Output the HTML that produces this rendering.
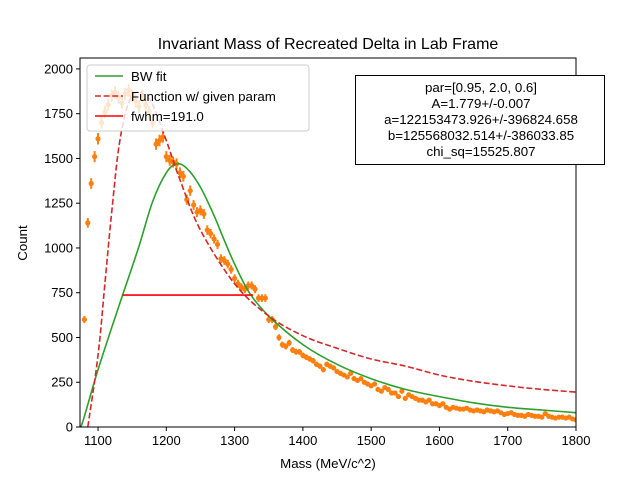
<!DOCTYPE html>
<html><head><meta charset="utf-8"><style>
body{margin:0;background:#fff;}
svg{font-family:"Liberation Sans","DejaVu Sans",sans-serif;}
</style></head><body>
<svg id="chart" width="640" height="480" viewBox="0 0 640 480">
<rect width="640" height="480" fill="#fff"/>
<text x="328" y="49" text-anchor="middle" font-size="16">Invariant Mass of Recreated Delta in Lab Frame</text>
<g id="plot"></g>
<text x="328" y="468" text-anchor="middle" font-size="13.3">Mass (MeV/c^2)</text>
<text transform="translate(27,243) rotate(-90)" text-anchor="middle" font-size="13.3">Count</text>
</svg>
<script>
const dataStart = 1080, dataStep = 5;
const counts = [600,1140,1360,1510,1610,1700,1760,1800,1850,1870,1840,1810,1860,1880,1850,1820,1790,1850,1800,1760,
1700,1580,1600,1620,1510,1490,1480,1470,1420,1400,1270,1320,1240,1200,1210,1190,1100,1080,1050,1020,
940,930,910,880,830,800,780,770,790,790,770,720,720,720,600,600,560,500,460,450,
470,430,420,420,400,390,380,370,350,340,320,350,340,330,310,300,290,280,300,270,
260,270,250,240,230,240,210,200,220,210,190,190,170,200,160,180,170,160,150,150,
140,150,130,130,120,130,110,100,110,105,100,100,105,95,90,95,90,85,95,90,
85,90,80,70,75,80,70,65,65,60,70,65,60,60,55,75,60,55,50,55,
55,50,55,45,40];
const fitMass = [1075,1080,1100,1120,1136,1160,1180,1200,1215,1230,1250,1270,1283,1300,1322,1350,1400,1450,1500,1550,1600,1650,1700,1750,1800];
const fitVals = [0,60,320,555,737,1010,1260,1420,1470,1445,1340,1180,1060,910,748,620,460,350,270,210,170,135,110,95,80];
const givenMass = [1085,1100,1110,1120,1130,1140,1150,1160,1170,1180,1200,1220,1250,1300,1350,1400,1450,1500,1550,1600,1650,1700,1750,1800];
const givenVals = [0,400,800,1200,1550,1750,1850,1870,1850,1800,1600,1380,1100,800,620,510,440,380,340,290,255,230,210,195];
const fwhmRange = [1136,1327];
const fwhmLevel = 737;
const xTicks = [1100,1200,1300,1400,1500,1600,1700,1800];
const yTicks = [0,250,500,750,1000,1250,1500,1750,2000];

const L=80,R=576,T=58,B=427, xMin=1073.6,xMax=1800,yMin=0,yMax=2061;
const sx=v=>L+(v-xMin)/(xMax-xMin)*(R-L);
const sy=v=>B-(v-yMin)/(yMax-yMin)*(B-T);
const NS="http://www.w3.org/2000/svg";
const g=document.getElementById('plot');
function mk(tag,attrs,parent){const e=document.createElementNS(NS,tag);for(const k in attrs)e.setAttribute(k,attrs[k]);(parent||g).appendChild(e);return e;}
function smooth(ms,vs){
  const p=ms.map((m,i)=>[sx(m),sy(vs[i])]);
  let d='M'+p[0][0].toFixed(1)+','+p[0][1].toFixed(1);
  for(let i=0;i<p.length-1;i++){
    const p0=p[Math.max(0,i-1)],p1=p[i],p2=p[i+1],p3=p[Math.min(p.length-1,i+2)];
    const c1=[p1[0]+(p2[0]-p0[0])/6,p1[1]+(p2[1]-p0[1])/6];
    const c2=[p2[0]-(p3[0]-p1[0])/6,p2[1]-(p3[1]-p1[1])/6];
    d+=' C'+c1.map(v=>v.toFixed(1)).join(',')+' '+c2.map(v=>v.toFixed(1)).join(',')+' '+p2.map(v=>v.toFixed(1)).join(',');
  }
  return d;
}
const clip=mk('clipPath',{id:'cp'});mk('rect',{x:L,y:T,width:R-L,height:B-T},clip);
const inner=mk('g',{'clip-path':'url(#cp)'});


counts.forEach((c,i)=>{
  const m=dataStart+i*dataStep, e=Math.sqrt(c)*0.8;
  const bar=mk('line',{x1:sx(m),x2:sx(m),y1:sy(c-e),y2:sy(c+e),stroke:'#ff7f0e','stroke-width':2},inner);
  
  
  const p=mk('circle',{cx:sx(m),cy:sy(c),r:2.6,fill:'#ff7f0e'},inner);
  
  
});
const gl=mk('path',{d:smooth(fitMass,fitVals),fill:'none',stroke:'#2ca02c','stroke-width':1.6},inner);


const rl=mk('path',{d:smooth(givenMass,givenVals),fill:'none',stroke:'#d62728','stroke-width':1.6,'stroke-dasharray':'6,2.6'},inner);


const fl=mk('line',{x1:sx(fwhmRange[0]),x2:sx(fwhmRange[1]),y1:sy(fwhmLevel),y2:sy(fwhmLevel),stroke:'#ff0000','stroke-width':1.6},inner);


const frame=mk('rect',{x:L,y:T,width:R-L,height:B-T,fill:'none',stroke:'#000','stroke-width':1});


xTicks.forEach(t=>{
  mk('line',{x1:sx(t),x2:sx(t),y1:B,y2:B+4,stroke:'#000'});
  const tx=mk('text',{x:sx(t),y:B+18,'text-anchor':'middle','font-size':13});tx.textContent=t;
  
  
});
yTicks.forEach(t=>{
  mk('line',{x1:L-4,x2:L,y1:sy(t),y2:sy(t),stroke:'#000'});
  const tx=mk('text',{x:L-7,y:sy(t)+4.5,'text-anchor':'end','font-size':13});tx.textContent=t;
  
  
});
const lg=mk('g',{});


mk('rect',{x:87,y:65,width:222,height:66,rx:3,fill:'#fff','fill-opacity':0.8,stroke:'#ccc'},lg);
const items=[['BW fit','#2ca02c',''],['Function w/ given param','#d62728','6,2.6'],['fwhm=191.0','#ff0000','']];
items.forEach((it,i)=>{
  const y=76+i*20;
  mk('line',{x1:95,x2:123,y1:y,y2:y,stroke:it[1],'stroke-width':1.6,'stroke-dasharray':it[2]},lg);
  const t=mk('text',{x:131,y:y+5,'font-size':13.3},lg);t.textContent=it[0];
  
  
});
const tb=mk('g',{});


mk('rect',{x:355.5,y:75.5,width:249,height:89,fill:'#fff',stroke:'#000'},tb);
['par=[0.95, 2.0, 0.6]','A=1.779+/-0.007','a=122153473.926+/-396824.658','b=125568032.514+/-386033.85','chi_sq=15525.807'].forEach((s,i)=>{
  const t=mk('text',{x:481,y:92+i*16,'text-anchor':'middle','font-size':13.3},tb);t.textContent=s;
  
  
});
</script>
</body></html>
